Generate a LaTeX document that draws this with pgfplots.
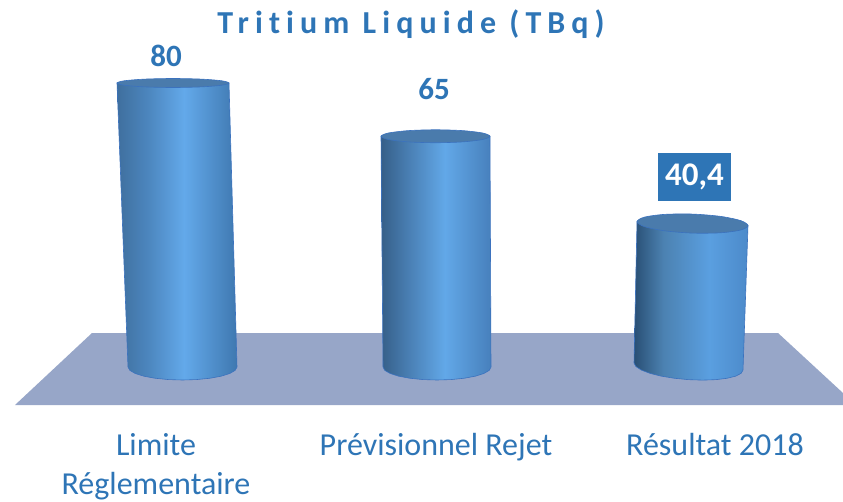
\documentclass[border=0pt]{standalone}
\usepackage{pgfplots}
\pgfplotsset{compat=1.18}
\usepackage{fontspec}
\setmainfont{Carlito}
\newfontfamily\titlefont[LetterSpace=19,Ligatures=NoCommon]{Carlito}
\definecolor{txt}{HTML}{2E75B6}
\definecolor{floorc}{HTML}{97A6C8}
\definecolor{edge}{HTML}{3B72BE}
\definecolor{topc}{HTML}{4A7BAC}
\definecolor{cA0}{HTML}{3F6F9E}
\definecolor{cA1}{HTML}{4C86BE}
\definecolor{cA2}{HTML}{63A9EA}
\definecolor{cA3}{HTML}{3F78B0}
\definecolor{cB0}{HTML}{365F88}
\definecolor{cB1}{HTML}{4A80B5}
\definecolor{cB2}{HTML}{62A8E8}
\definecolor{cB3}{HTML}{4780BC}
\definecolor{cC0}{HTML}{294F74}
\definecolor{cC1}{HTML}{4C82B2}
\definecolor{cC2}{HTML}{5A9FE0}
\definecolor{cC3}{HTML}{4C8ACA}
\pgfdeclarehorizontalshading{cylB}{100bp}{color(0bp)=(cB0);color(25bp)=(cB0);color(38bp)=(cB1);color(54bp)=(cB2);color(75bp)=(cB3);color(100bp)=(cB3)}
\pgfdeclarehorizontalshading{cylC}{100bp}{color(0bp)=(cC0);color(25bp)=(cC0);color(38bp)=(cC1);color(58bp)=(cC2);color(75bp)=(cC3);color(100bp)=(cC3)}
\pgfdeclarehorizontalshading{cylA}{100bp}{color(0bp)=(cA0);color(25bp)=(cA0);color(38bp)=(cA1);color(53bp)=(cA2);color(75bp)=(cA3);color(100bp)=(cA3)}
\begin{document}
\begin{tikzpicture}[x=1pt,y=1pt]
\useasboundingbox (0,0) rectangle (843,501);
\begin{axis}[
  at={(0pt,96pt)}, anchor=south west, scale only axis,
  width=843pt, height=405pt,
  xmin=0, xmax=843, ymin=-10.70, ymax=103.38,
  axis line style={draw=none}, tick style={draw=none},
  ytick=\empty, clip=false,
  xtick={156,436,715},
  xticklabels={{Limite\\Réglementaire},{Prévisionnel Rejet},{Résultat 2018}},
  xticklabel style={anchor=north, align=center, yshift=-25pt, font=\fontsize{32}{39}\selectfont, text=txt},
]
% plancher
\addplot[draw=none, fill=floorc] coordinates {(15,-10.70)(92,9.58)(778,9.58)(843,-7.32)(843,-10.70)} --cycle;
% Limite Reglementaire = 80
\addplot[draw=edge, line width=0.6pt, shade, shading=cylA] coordinates {
 (117,80)(229,80)(237,0)(235.1,-0.95)(229.7,-1.83)(221.0,-2.59)(209.8,-3.17)(196.6,-3.54)(182.5,-3.66)(168.4,-3.54)(155.2,-3.17)(144.0,-2.59)(135.3,-1.83)(129.9,-0.95)(128,0)} --cycle;
\addplot[draw=edge, line width=0.6pt, fill=topc, smooth cycle] coordinates {
 (229,80)(221.5,80.635)(201,81.1)(173,81.27)(145,81.1)(124.5,80.635)(117,80)(124.5,79.365)(145,78.9)(173,78.73)(201,78.9)(221.5,79.365)};
% Previsionnel Rejet = 65
\addplot[draw=edge, line width=0.6pt, shade, shading=cylB] coordinates {
 (381,65)(490,65)(491,0)(489.2,-0.95)(483.8,-1.83)(475.2,-2.59)(464,-3.17)(451,-3.54)(437,-3.66)(423,-3.54)(410,-3.17)(398.8,-2.59)(390.2,-1.83)(384.8,-0.95)(383,0)} --cycle;
\addplot[draw=edge, line width=0.6pt, fill=topc, smooth cycle] coordinates {
 (490,65)(482.7,65.915)(462.75,66.585)(435.5,66.83)(408.25,66.585)(388.3,65.915)(381,65)(388.3,64.085)(408.25,63.415)(435.5,63.17)(462.75,63.415)(482.7,64.085)};
% Resultat 2018 = 40,4
\addplot[draw=edge, line width=0.6pt, shade, shading=cylC] coordinates {
 (637,40.96)(748,39.84)(743,-0.85)(741.1,-1.78)(735.7,-2.57)(727,-3.18)(715.8,-3.56)(702.6,-3.69)(688.5,-3.56)(674.4,-3.17)(661.2,-2.57)(650,-1.78)(641.3,-0.85)(635.9,0.14)(634,1.13)} --cycle;
\addplot[draw=edge, line width=0.6pt, fill=topc, smooth cycle] coordinates {
 (748,39.84)(740.6,41.255)(720.25,42.44)(692.5,43.08)(664.75,43.0)(644.4,42.225)(637,40.96)(644.4,39.545)(664.75,38.36)(692.5,37.72)(720.25,37.8)(740.6,38.575)};
% valeurs
\node[text=txt, font=\fontsize{31}{31}\selectfont\bfseries] at (axis cs:166,87.7) {80};
\node[text=txt, font=\fontsize{31}{31}\selectfont\bfseries] at (axis cs:434,78.4) {65};
\node[fill=txt, text=white, font=\fontsize{33}{33}\selectfont\bfseries, minimum width=73pt, minimum height=48pt, inner sep=0pt] at (axis cs:694.5,53.5) {40,4};
\node[text=txt, font=\titlefont\fontsize{32}{32}\selectfont\bfseries] at (axis cs:411,96.5) {Tritium Liquide (TBq)};
\end{axis}
\end{tikzpicture}
\end{document}
